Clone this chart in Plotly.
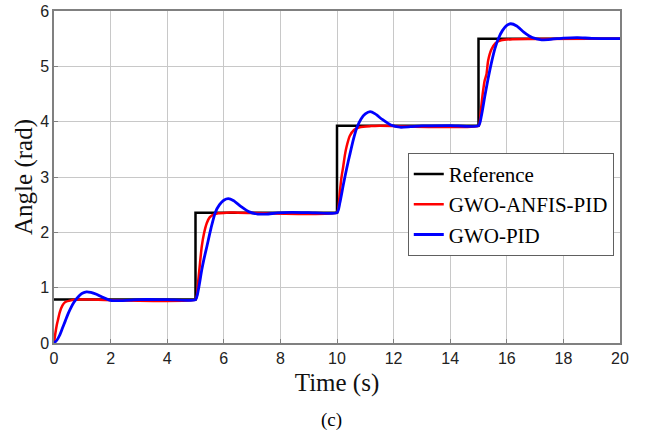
import plotly.graph_objects as go

# Reference (step) signal
ref_t = [0, 5, 10, 15, 20]
ref_y = [0.785, 2.356, 3.927, 5.498, 5.498]

# GWO-ANFIS-PID response
anfis_t = [0, 0.05, 0.1, 0.15, 0.2, 0.3, 0.4, 0.6, 0.8, 1.2, 5.0,
           5.05, 5.1, 5.16, 5.22, 5.3, 5.4, 5.5, 5.6, 5.8, 6.1, 6.5, 10.0,
           10.05, 10.1, 10.16, 10.22, 10.28, 10.34, 10.45, 10.6, 10.8, 11.2, 11.5, 15.0,
           15.05, 15.1, 15.16, 15.22, 15.28, 15.34, 15.45, 15.6, 15.8, 16.2, 20]
anfis_y = [0, 0.18, 0.33, 0.44, 0.55, 0.68, 0.74, 0.77, 0.785, 0.785, 0.785,
           0.86, 1.14, 1.45, 1.74, 1.98, 2.17, 2.27, 2.31, 2.345, 2.356, 2.356, 2.356,
           2.45, 2.72, 3.0, 3.19, 3.4, 3.55, 3.74, 3.85, 3.9, 3.92, 3.927, 3.927,
           4.02, 4.28, 4.55, 4.75, 4.85, 5.1, 5.3, 5.42, 5.47, 5.49, 5.498]

# GWO-PID response
pid_t = [0, 0.1, 0.2, 0.3, 0.4, 0.5, 0.6, 0.7, 0.8, 0.9, 1.0, 1.15, 1.3, 1.5, 1.7, 2.0, 2.3, 2.7, 3.0, 4.0, 5.0,
         5.1, 5.22, 5.3, 5.4, 5.55, 5.7, 5.85, 6.0, 6.16, 6.35, 6.6, 6.9, 7.2, 7.5, 7.9, 8.4, 9.0, 10.0,
         10.1, 10.22, 10.34, 10.45, 10.58, 10.7, 10.85, 11.0, 11.17, 11.35, 11.6, 11.9, 12.23, 12.6, 13.0, 14.0, 15.0,
         15.1, 15.22, 15.34, 15.45, 15.58, 15.7, 15.85, 16.0, 16.14, 16.35, 16.6, 16.9, 17.23, 17.6, 18.0, 18.5, 19.0, 20.0]
pid_y = [0, 0.05, 0.14, 0.27, 0.4, 0.53, 0.64, 0.73, 0.8, 0.86, 0.9, 0.925, 0.915, 0.88, 0.83, 0.77, 0.765, 0.775, 0.785, 0.785, 0.785,
         0.96, 1.32, 1.52, 1.74, 2.08, 2.36, 2.5, 2.58, 2.61, 2.57, 2.47, 2.37, 2.33, 2.33, 2.35, 2.36, 2.356, 2.356,
         2.53, 2.85, 3.15, 3.4, 3.68, 3.89, 4.05, 4.14, 4.18, 4.14, 4.04, 3.94, 3.9, 3.91, 3.925, 3.93, 3.927,
         4.1, 4.45, 4.78, 5.05, 5.32, 5.5, 5.65, 5.74, 5.77, 5.73, 5.62, 5.52, 5.48, 5.49, 5.51, 5.52, 5.505, 5.5]

x_ticks = [0, 2, 4, 6, 8, 10, 12, 14, 16, 18, 20]
y_ticks = [0, 1, 2, 3, 4, 5, 6]

fig = go.Figure()
fig.add_trace(go.Scatter(x=ref_t, y=ref_y, mode="lines", name="Reference",
                         line=dict(color="black", width=2.5, shape="hv")))
fig.add_trace(go.Scatter(x=anfis_t, y=anfis_y, mode="lines", name="GWO-ANFIS-PID",
                         line=dict(color="#ff0000", width=2.5, shape="spline", smoothing=0.6)))
fig.add_trace(go.Scatter(x=pid_t, y=pid_y, mode="lines", name="GWO-PID",
                         line=dict(color="#0000ff", width=2.8, shape="spline", smoothing=0.6)))

axis_common = dict(showgrid=True, gridcolor="#c8c8c8", gridwidth=1,
                   showline=True, linecolor="#808080", linewidth=1.5, mirror=True,
                   ticks="inside", ticklen=4, tickcolor="#808080",
                   tickfont=dict(family="Liberation Sans, Arial", size=16, color="#222"),
                   zeroline=False, automargin=False)

title_font = dict(family="Liberation Serif, Times New Roman", size=25, color="#111")

fig.update_xaxes(range=[0, 20], tickvals=x_ticks,
                 title=dict(text="Time (s)", font=title_font, standoff=8),
                 **axis_common)
fig.update_yaxes(range=[0, 6], tickvals=y_ticks,
                 title=dict(text="Angle (rad)", font=title_font, standoff=0),
                 **axis_common)

fig.update_layout(
    width=646, height=442,
    margin=dict(l=54, r=26, t=11, b=99),
    plot_bgcolor="white", paper_bgcolor="white",
    showlegend=True,
    legend=dict(x=0.989, y=0.573, xanchor="right", yanchor="top",
                bgcolor="white", bordercolor="#606060", borderwidth=1,
                font=dict(family="Liberation Serif, Times New Roman", size=21, color="black"),
                tracegroupgap=0, itemwidth=30),
    annotations=[dict(text="(c)", x=0.49, y=-0.232, xref="paper", yref="paper",
                      xanchor="center", yanchor="middle", showarrow=False,
                      font=dict(family="Liberation Serif, Times New Roman", size=19, color="black"))],
)

fig.write_html("out.html")
